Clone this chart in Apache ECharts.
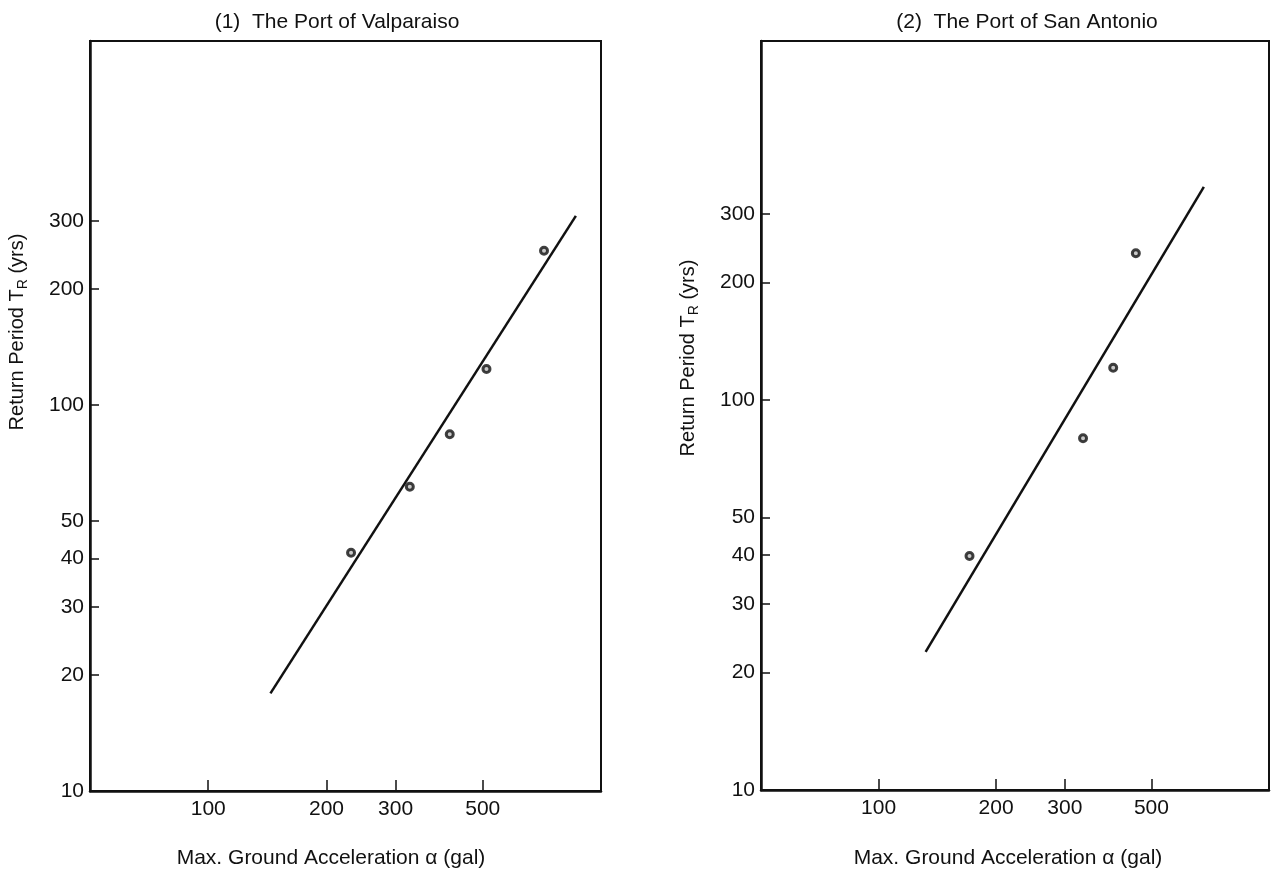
<!DOCTYPE html>
<html>
<head>
<meta charset="utf-8">
<script src="https://cdn.jsdelivr.net/npm/echarts@6/dist/echarts.min.js"></script>
<style>
  html, body { margin: 0; padding: 0; background: #fff; }
  #chart { width: 1271px; height: 876px; }
</style>
</head>
<body>
<div id="chart"></div>
<script>
// 读图得到的数据 (1) Valparaiso
const valparaisoAccel = [231, 326, 412, 511, 716];
const valparaisoPeriod = [41.4, 61.4, 84, 124, 251];
const valparaisoFitAccel = [144, 863];
const valparaisoFitPeriod = [17.9, 309];

// (2) San Antonio
const sanAntonioAccel = [171, 334, 399, 456];
const sanAntonioPeriod = [39.8, 79.8, 121, 238];
const sanAntonioFitAccel = [132, 681];
const sanAntonioFitPeriod = [22.6, 352];

// 刻度
const xTicks = [100, 200, 300, 500];
const yTicks = [10, 20, 30, 40, 50, 100, 200, 300];

const font = "'Liberation Sans', Arial, sans-serif";
const ink = '#111';

function pairs(xs, ys) {
    return xs.map((x, i) => [x, ys[i]]);
}

function xAxisOf(gridIndex) {
    return {
        type: 'log',
        logBase: 10,
        gridIndex: gridIndex,
        min: 50,
        max: 1000,
        axisLine: { lineStyle: { color: ink, width: 2.5 } },
        axisTick: {
            inside: true,
            length: 11,
            customValues: xTicks,
            lineStyle: { color: ink, width: 1.5 }
        },
        axisLabel: {
            customValues: xTicks,
            color: ink,
            fontFamily: font,
            fontSize: 21,
            margin: 8
        },
        splitLine: { show: false },
        minorTick: { show: false }
    };
}

function yAxisOf(gridIndex, max) {
    return {
        type: 'log',
        logBase: 10,
        gridIndex: gridIndex,
        min: 10,
        max: max,
        axisLine: { lineStyle: { color: ink, width: 2.5 } },
        axisTick: {
            inside: true,
            length: 9,
            customValues: yTicks,
            lineStyle: { color: ink, width: 1.5 }
        },
        axisLabel: {
            customValues: yTicks,
            color: ink,
            fontFamily: font,
            fontSize: 21,
            margin: 6
        },
        splitLine: { show: false }
    };
}

function yName(x, y) {
    return {
        type: 'text',
        x: x,
        y: y,
        rotation: Math.PI / 2,
        style: {
            text: '{a|Return Period T}{s|R}{a| (yrs)}',
            align: 'center',
            verticalAlign: 'middle',
            fill: ink,
            rich: {
                a: { fontFamily: font, fontSize: 20, lineHeight: 26, verticalAlign: 'middle', fill: ink },
                s: { fontFamily: font, fontSize: 14, lineHeight: 14, verticalAlign: 'bottom', fill: ink }
            }
        }
    };
}

function plainText(x, y, text, size) {
    return {
        type: 'text',
        x: x,
        y: y,
        style: {
            text: text,
            align: 'center',
            verticalAlign: 'middle',
            fill: ink,
            fontFamily: font,
            fontSize: size
        }
    };
}

// 数据点: 黑色圆环, 中心浅色
const dotStyle = { color: '#bbb', borderColor: ink, borderWidth: 3 };

const chart = echarts.init(document.getElementById('chart'));

const option = {
    backgroundColor: '#fff',
    animation: false,
    grid: [
        { left: 90, right: 670, top: 41, bottom: 85, show: true, borderColor: ink, borderWidth: 2, backgroundColor: 'transparent' },
        { left: 761, right: 2, top: 41, bottom: 86, show: true, borderColor: ink, borderWidth: 2, backgroundColor: 'transparent' }
    ],
    xAxis: [xAxisOf(0), xAxisOf(1)],
    yAxis: [yAxisOf(0, 877), yAxisOf(1, 833)],
    graphic: [
        plainText(337, 22, '(1)  The Port of Valparaiso', 21),
        plainText(1027, 22, '(2)  The Port of San Antonio', 21),
        plainText(331, 858, 'Max. Ground Acceleration \u03b1 (gal)', 21),
        plainText(1008, 858, 'Max. Ground Acceleration \u03b1 (gal)', 21),
        yName(17, 332),
        yName(688, 358)
    ],
    series: [
        {
            type: 'line',
            xAxisIndex: 0,
            yAxisIndex: 0,
            data: pairs(valparaisoFitAccel, valparaisoFitPeriod),
            showSymbol: false,
            lineStyle: { color: ink, width: 2.5 }
        },
        {
            type: 'scatter',
            xAxisIndex: 0,
            yAxisIndex: 0,
            data: pairs(valparaisoAccel, valparaisoPeriod),
            symbol: 'circle',
            symbolSize: 7,
            itemStyle: dotStyle
        },
        {
            type: 'line',
            xAxisIndex: 1,
            yAxisIndex: 1,
            data: pairs(sanAntonioFitAccel, sanAntonioFitPeriod),
            showSymbol: false,
            lineStyle: { color: ink, width: 2.5 }
        },
        {
            type: 'scatter',
            xAxisIndex: 1,
            yAxisIndex: 1,
            data: pairs(sanAntonioAccel, sanAntonioPeriod),
            symbol: 'circle',
            symbolSize: 7,
            itemStyle: dotStyle
        }
    ]
};

chart.setOption(option);

window.addEventListener('resize', function () {
    chart.resize();
});
</script>
</body>
</html>
